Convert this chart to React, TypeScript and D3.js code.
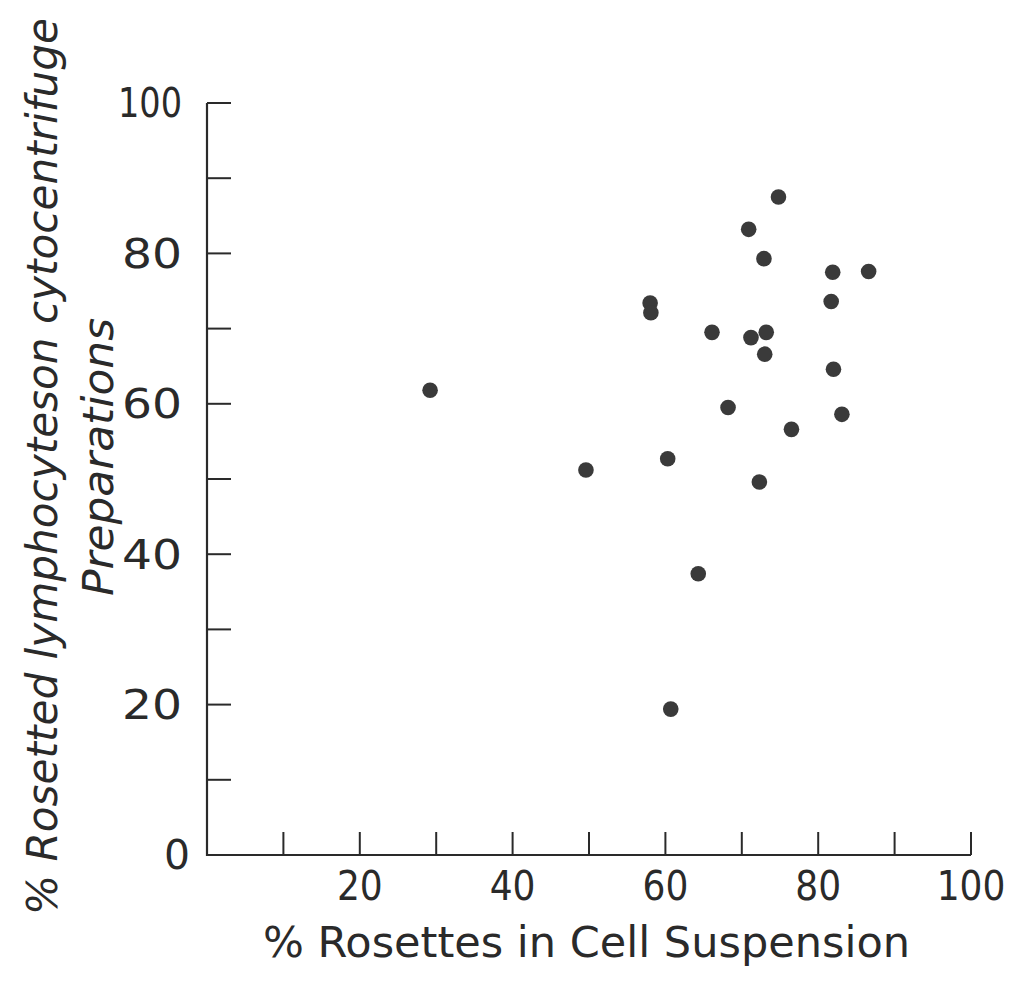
import React from "react";
import * as d3 from "d3";

const xValues = [29.2, 49.6, 58.0, 58.1, 60.3, 60.7, 64.3, 66.1, 68.2, 70.9, 71.2, 72.3, 72.9, 73.2, 73.0, 74.8, 76.5, 81.7, 81.9, 82.0, 83.1, 86.6];
const yValues = [61.8, 51.2, 73.4, 72.1, 52.7, 19.4, 37.4, 69.5, 59.5, 83.2, 68.8, 49.6, 79.3, 69.5, 66.6, 87.5, 56.6, 73.6, 77.5, 64.6, 58.6, 77.6];
const xTicks = [10, 20, 30, 40, 50, 60, 70, 80, 90, 100];
const xTickLabels = [20, 40, 60, 80, 100];
const yTicks = [0, 10, 20, 30, 40, 50, 60, 70, 80, 90, 100];
const yTickLabels = [0, 20, 40, 60, 80, 100];
const xTitle = "% Rosettes in Cell Suspension";
const yTitle1 = "% Rosetted lymphocyteson cytocentrifuge";
const yTitle2 = "Preparations";

export default function App() {
  const W = 1019, H = 981;
  const x = d3.scaleLinear().domain([0, 100]).range([207, 971]);
  const y = d3.scaleLinear().domain([0, 100]).range([855, 103]);
  const ink = "#2a2a2a";
  const font = "'DejaVu Sans Condensed', 'Liberation Sans Narrow', 'DejaVu Sans', sans-serif";
  return (
    <svg width={W} height={H} style={{ position: "absolute", left: 0, top: 0, background: "#fff" }}>
      <rect width={W} height={H} fill="#fff" />
      <path d={`M${x(0)},${y(100)}V${y(0)}H${x(100)}`} fill="none" stroke={ink} strokeWidth={2.2} />
      {yTicks.filter(t => t > 0).map(t => (
        <line key={"yt" + t} x1={x(0)} x2={x(0) + 24} y1={y(t)} y2={y(t)} stroke={ink} strokeWidth={2} />
      ))}
      {xTicks.map(t => (
        <line key={"xt" + t} x1={x(t)} x2={x(t)} y1={y(0)} y2={y(0) - 23} stroke={ink} strokeWidth={2} />
      ))}
      {yTickLabels.map(t => (
        <text key={"yl" + t} x={t === 0 ? 190 : 182} y={y(t)} dy="0.36em" textAnchor="end" fontFamily={font} fontSize={40} fontWeight={300} fill={ink} textLength={t === 100 ? 64 : t === 0 ? 26 : 60} lengthAdjust="spacingAndGlyphs">{t}</text>
      ))}
      {xTickLabels.map(t => (
        <text key={"xl" + t} x={x(t)} y={900} textAnchor="middle" fontFamily={font} fontSize={40} fontWeight={300} fill={ink}>{t}</text>
      ))}
      <text x={(263 + 910) / 2} y={957} textAnchor="middle" fontFamily={font} fontSize={42} fontWeight={300} fill={ink} textLength={647} lengthAdjust="spacingAndGlyphs">{xTitle}</text>
      <text transform={`translate(57,${(18 + 915) / 2}) rotate(-90)`} textAnchor="middle" fontFamily={font} fontStyle="italic" fontSize={42} fontWeight={300} fill={ink} textLength={897} lengthAdjust="spacingAndGlyphs">{yTitle1}</text>
      <text transform={`translate(113,${(318 + 596) / 2}) rotate(-90)`} textAnchor="middle" fontFamily={font} fontStyle="italic" fontSize={42} fontWeight={300} fill={ink} textLength={278} lengthAdjust="spacingAndGlyphs">{yTitle2}</text>
      {xValues.map((v, i) => (
        <circle key={"p" + i} cx={x(v)} cy={y(yValues[i])} r={7.8} fill="#3a3a3a" />
      ))}
    </svg>
  );
}
